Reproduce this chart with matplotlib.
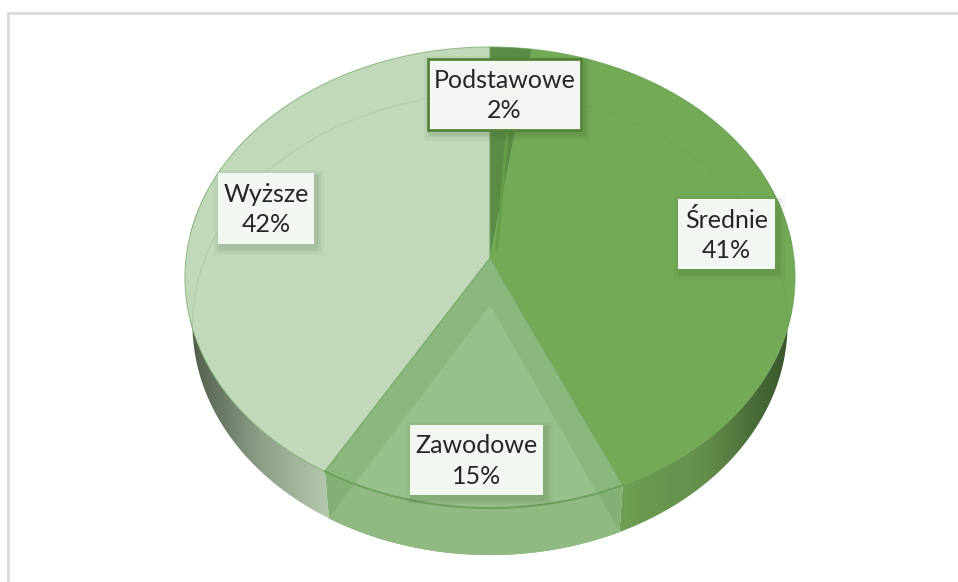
import numpy as np
import matplotlib
matplotlib.use("Agg")
import matplotlib.pyplot as plt
from matplotlib.colors import LinearSegmentedColormap
from matplotlib.patches import Polygon, Rectangle

categories = ["Podstawowe", "Średnie", "Zawodowe", "Wyższe"]
values = [2.4, 41.0, 15.0, 41.6]
top_colors = ["#5a8c45", "#72aa55", "#8ab87c", "#c1d8bb"]

# label boxes, left / top / right / bottom in pixels
boxes = [(428, 59, 581, 130), (678, 199, 775, 269), (410, 425, 543, 495), (218, 173, 314, 244)]

plt.rcParams["font.family"] = ["Lato", "DejaVu Sans"]

fig = plt.figure(figsize=(9.58, 5.82), dpi=100)
ax = fig.add_axes([0, 0, 1, 1])
ax.set_xlim(0, 958)
ax.set_ylim(582, 0)
ax.axis("off")

# perspective disc, apex sits above the middle of the ellipse
cx, cy = 490, 258
A, B, k = 304, 228.9, 0.0846
depth = 47
low_scale = 0.975


def project(theta, shift=0.0, scale=1.0, r=1.0):
    u = r * np.sin(theta)
    v = r * np.cos(theta)
    w = 1 + k * v
    return cx + A * scale * u / w, cy - B * v / w + shift


def wedge(a0, a1, shift=0.0, scale=1.0):
    x, y = project(np.linspace(a0, a1, 120), shift, scale)
    x0, y0 = project(0.0, shift, scale, 0.0)
    return np.r_[x0, x], np.r_[y0, y]


def wall_outline(a0, a1):
    t = np.linspace(a0, a1, 160)
    x1, y1 = project(t)
    x2, y2 = project(t[::-1], depth, low_scale)
    return np.c_[np.r_[x1, x2], np.r_[y1, y2]]


def side_wall(a0, a1, colors, x0, x1):
    # horizontal gradient clipped to the wall
    cmap = LinearSegmentedColormap.from_list("wall", colors)
    im = ax.imshow(np.linspace(0, 1, 256)[None, :], cmap=cmap, extent=(x0, x1, 582, 0), aspect="auto", zorder=1)
    clip = Polygon(wall_outline(a0, a1), transform=ax.transData, fc="none", ec="none")
    ax.add_patch(clip)
    im.set_clip_path(clip)


# border
ax.plot([8, 8, 958], [582, 13, 13], color="#d9d9d9", lw=2, zorder=0)

edges = 2 * np.pi * np.cumsum([0] + values) / sum(values)

# walls
side_wall(edges[1], edges[2], ["#6d9f52", "#648f4b", "#36532a"], 618, 792)
side_wall(edges[3], edges[4] - 0.2 * 2 * np.pi, ["#4f5c4a", "#8d9e88", "#b5c9af"], 190, 330)
ax.set_xlim(0, 958)
ax.set_ylim(582, 0)

# front wall of the see-through slice
ax.add_patch(Polygon(wall_outline(edges[2], edges[3]), fc="#84b076", ec="none", zorder=2))

# tops
for i in range(4):
    x, y = wedge(edges[i], edges[i + 1])
    ax.fill(x, y, color=top_colors[i], lw=0, zorder=3)
    ax.plot(np.r_[x, x[0]], np.r_[y, y[0]], color="#6fa65f", lw=0.7, alpha=0.7, zorder=4)

# floor of the see-through slice, seen through the top and the wall
x, y = wedge(edges[2], edges[3], depth, low_scale)
ax.fill(x, y, color="#98c08a", lw=0, zorder=5)
xa, ya = project(np.linspace(edges[2], edges[3], 80))
xb, yb = project(np.linspace(edges[3], edges[2], 80), depth, low_scale)
clip = Polygon(np.c_[x, y], transform=ax.transData, fc="none", ec="none")
ax.add_patch(clip)
front = Polygon(np.c_[np.r_[xa, xb], np.r_[ya, yb]], fc="#91ba83", ec="none", zorder=5.5)
ax.add_patch(front)
front.set_clip_path(clip)
ax.plot(xa, ya, color="#6aa25a", lw=1.4, zorder=6)

# far edge of the floor shows faintly through the top
t = np.linspace(edges[3], 2 * np.pi + edges[2], 300)
keep = (t < 2 * np.pi + 1.75) & (t > 2 * np.pi - 1.75)
xs, ys = project(t[keep], depth, low_scale)
ax.plot(xs, ys, color="#5d9646", lw=0.8, alpha=0.17, zorder=4)

# seam inside the small slice
x0, y0 = project(0.0, 0.0, 1.0, 0.0)
xe, ye = project(edges[1] - 0.05, 0.0, 1.0, 0.62)
ax.plot([x0 + 7, xe], [y0 - 10, ye], color="#639f47", lw=2, zorder=4)

# labels
for i, b in enumerate(boxes):
    left, top, right, bottom = b
    for g, al in [(7, 0.04), (4, 0.06), (2, 0.07)]:
        ax.add_patch(Rectangle((left + 3 - g, top + 4 - g), right - left + 2 * g, bottom - top + 2 * g,
                               color="#2f4a22", alpha=al, lw=0, zorder=7))
    if i == 0:
        ax.add_patch(Rectangle((left, top), right - left, bottom - top, fc="#f6f8f5", ec="#548235", lw=2, alpha=0.98, zorder=8))
    else:
        ax.add_patch(Rectangle((left, top), right - left, bottom - top, fc="#f3f7f1", ec="none", zorder=8))
    ax.text((left + right) / 2, (top + bottom) / 2 + 1, f"{categories[i]}\n{values[i]:.0f}%", ha="center", va="center",
            fontsize=18, color="#262626", linespacing=1.38, zorder=9)

fig.savefig("out.png", dpi=100)
